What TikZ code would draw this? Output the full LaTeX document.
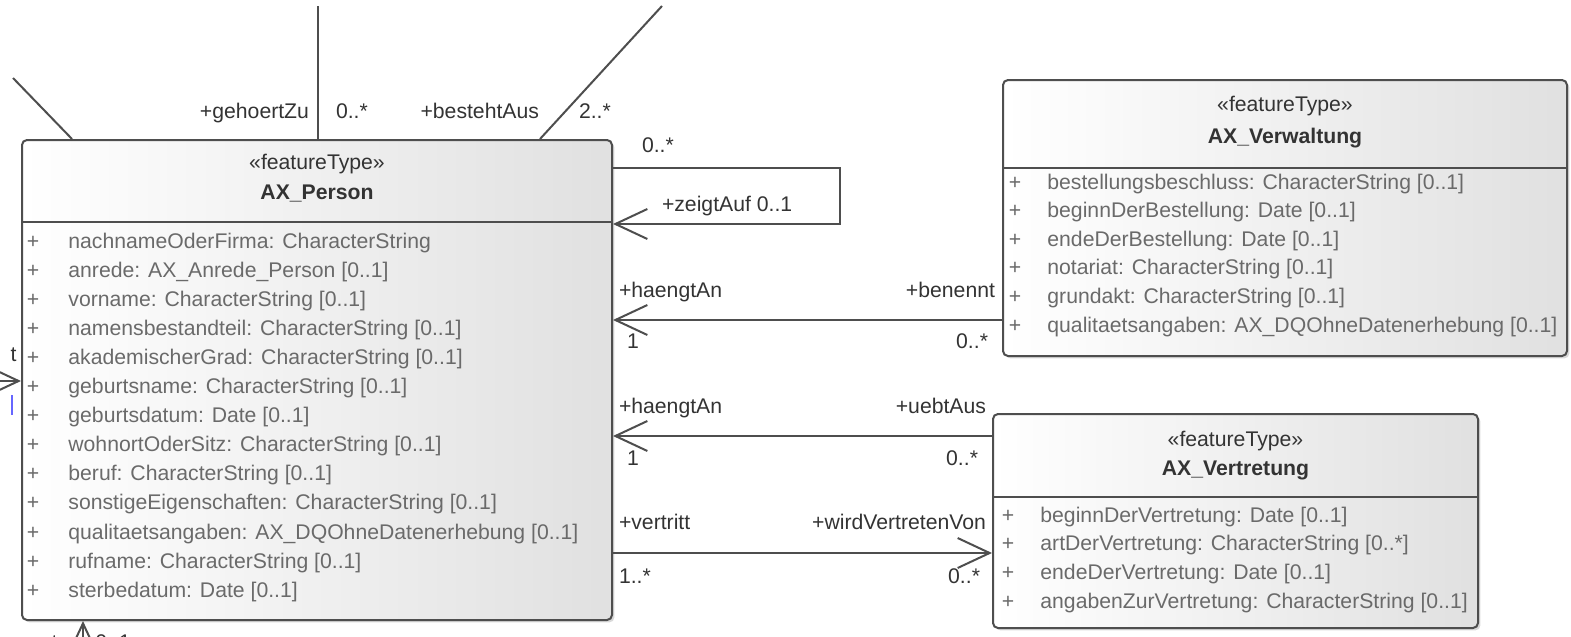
\documentclass[tikz,border=0pt]{standalone}
\usepackage{fontspec}
\setmainfont{Liberation Sans}
\usetikzlibrary{arrows.meta,shadows,positioning}

\definecolor{linegray}{HTML}{4E4E4E}
\definecolor{attrgray}{HTML}{6A6A6A}
\definecolor{lblgray}{HTML}{333333}
\newcommand\umlfont{\fontsize{10.6}{12}\selectfont}

\tikzset{
  classbox/.style={draw=linegray, line width=1pt, rounded corners=2.5pt,
    left color=white, right color=black!12,
    drop shadow={shadow xshift=1.2pt, shadow yshift=-1.2pt, opacity=.3}},
  sepline/.style={draw=linegray, line width=1pt},
  assoc/.style={draw=linegray, line width=1pt},
  navi/.style={assoc, -{Straight Barb[length=16pt,width=15pt]}},
  attr/.style={font=\umlfont, text=attrgray, anchor=base west, inner sep=0pt},
  plus/.style={font=\umlfont, text=attrgray, anchor=base, inner sep=0pt},
  stereo/.style={font=\umlfont, text=lblgray, anchor=base, inner sep=0pt},
  cname/.style={font=\umlfont\bfseries, text=lblgray, anchor=base, inner sep=0pt},
  lbl/.style={font=\umlfont, text=lblgray, inner sep=0pt},
}

\begin{document}
\begin{tikzpicture}[x=0.5pt, y=-0.5pt]
    \useasboundingbox (0,0) rectangle (1571,637);
    \clip (0,0) rectangle (1571,637);

    % classes
    \node[classbox, minimum width=295pt, minimum height=240pt] (person) at (317,380) {};
    \node[classbox, minimum width=282pt, minimum height=138pt] (verw) at (1285,218) {};
    \node[classbox, minimum width=242.5pt, minimum height=107pt] (vert) at (1235.5,521) {};

    % AX_Person
    \draw[sepline] (person.west |- 0,222) -- (person.east |- 0,222);
    \node[stereo] at (person.north |- 0,169) {«featureType»};
    \node[cname] at (person.north |- 0,199.5) {AX\_Person};
    \foreach \a [count=\i from 0] in {{nachnameOderFirma: CharacterString},
        {anrede: AX\_Anrede\_Person [0..1]}, {vorname: CharacterString [0..1]},
        {namensbestandteil: CharacterString [0..1]}, {akademischerGrad: CharacterString [0..1]},
        {geburtsname: CharacterString [0..1]}, {geburtsdatum: Date [0..1]},
        {wohnortOderSitz: CharacterString [0..1]}, {beruf: CharacterString [0..1]},
        {sonstigeEigenschaften: CharacterString [0..1]},
        {qualitaetsangaben: AX\_DQOhneDatenerhebung [0..1]},
        {rufname: CharacterString [0..1]}, {sterbedatum: Date [0..1]}}{
        \node[plus] at (33,248+29.1*\i) {+};
        \node[attr] at (68,248+29.1*\i) {\a};
    }

    % AX_Verwaltung
    \draw[sepline] (verw.west |- 0,168) -- (verw.east |- 0,168);
    \node[stereo] at (verw.north |- 0,111) {«featureType»};
    \node[cname] at (verw.north |- 0,143.5) {AX\_Verwaltung};
    \foreach \a [count=\i from 0] in {{bestellungsbeschluss: CharacterString [0..1]},
        {beginnDerBestellung: Date [0..1]}, {endeDerBestellung: Date [0..1]},
        {notariat: CharacterString [0..1]}, {grundakt: CharacterString [0..1]},
        {qualitaetsangaben: AX\_DQOhneDatenerhebung [0..1]}}{
        \node[plus] at (1015,189+28.6*\i) {+};
        \node[attr] at (1047,189+28.6*\i) {\a};
    }

    % AX_Vertretung
    \draw[sepline] (vert.west |- 0,497) -- (vert.east |- 0,497);
    \node[stereo] at (vert.north |- 0,446) {«featureType»};
    \node[cname] at (vert.north |- 0,475.5) {AX\_Vertretung};
    \foreach \a [count=\i from 0] in {{beginnDerVertretung: Date [0..1]},
        {artDerVertretung: CharacterString [0..*]}, {endeDerVertretung: Date [0..1]},
        {angabenZurVertretung: CharacterString [0..1]}}{
        \node[plus] at (1008,522+28.7*\i) {+};
        \node[attr] at (1040,522+28.7*\i) {\a};
    }

    % associations
    \coordinate (selfR) at (840,168);
    \draw[navi] (person.east |- 0,168) -- node[lbl, pos=0, anchor=base west, xshift=14pt, yshift=7.8pt] {0..*}
        (selfR) -- (selfR |- 0,224) -- (person.east |- 0,224)
        node[lbl, pos=1, anchor=base west, xshift=24pt, yshift=6.2pt] {+zeigtAuf 0..1};

    \draw[navi] (verw.west |- 0,320) -- (person.east |- 0,320)
        node[lbl, pos=0, anchor=base east, xshift=-3pt, yshift=11.5pt] {+benennt}
        node[lbl, pos=0, anchor=base east, xshift=-6.5pt, yshift=-14pt] {0..*}
        node[lbl, pos=1, anchor=base west, xshift=2.5pt, yshift=11.5pt] {+haengtAn}
        node[lbl, pos=1, anchor=base west, xshift=6.5pt, yshift=-14pt] {1};

    \draw[navi] (vert.west |- 0,436) -- (person.east |- 0,436)
        node[lbl, pos=0, anchor=base east, xshift=-2.5pt, yshift=11.5pt] {+uebtAus}
        node[lbl, pos=0, anchor=base east, xshift=-6.5pt, yshift=-14.5pt] {0..*}
        node[lbl, pos=1, anchor=base west, xshift=2.5pt, yshift=11.5pt] {+haengtAn}
        node[lbl, pos=1, anchor=base west, xshift=6.5pt, yshift=-14.5pt] {1};

    \draw[navi] (person.east |- 0,553) -- (vert.west |- 0,553)
        node[lbl, pos=0, anchor=base west, xshift=2.5pt, yshift=12pt] {+vertritt}
        node[lbl, pos=0, anchor=base west, xshift=2.5pt, yshift=-15pt] {1..*}
        node[lbl, pos=1, anchor=base east, xshift=-2.5pt, yshift=12pt] {+wirdVertretenVon}
        node[lbl, pos=1, anchor=base east, xshift=-5.5pt, yshift=-15pt] {0..*};

    % cut-off associations at the border
    \coordinate (upA) at (318,6);
    \coordinate (upB) at (662,6);
    \coordinate (upC) at (13,78);
    \draw[assoc] (upA) -- (upA |- person.north)
        node[lbl, pos=1, anchor=base east, xshift=-4pt, yshift=10.5pt] {+gehoertZu}
        node[lbl, pos=1, anchor=base west, xshift=8.5pt, yshift=10.5pt] {0..*};
    \draw[assoc] (upB) -- (person.north -| 540,0)
        node[lbl, pos=1, anchor=base east, xshift=0pt, yshift=10.5pt] {+bestehtAus}
        node[lbl, pos=1, anchor=base west, xshift=19pt, yshift=10.5pt] {2..*};
    \draw[assoc] (upC) -- (person.north -| 72,0);

    \coordinate (lfA) at (-10,381);
    \draw[navi] (lfA) -- (person.west |- lfA);
    \node[lbl, anchor=base east] at (17,361) {t};
    \draw[blue!60, line width=1pt] (12,395) -- (12,415);

    \coordinate (btA) at (83,660);
    \draw[navi] (btA) -- (btA |- person.south);
    \node[lbl, anchor=base east] at (58,649) {nent};
    \node[lbl, anchor=base west] at (95,649) {0..1};
\end{tikzpicture}
\end{document}
